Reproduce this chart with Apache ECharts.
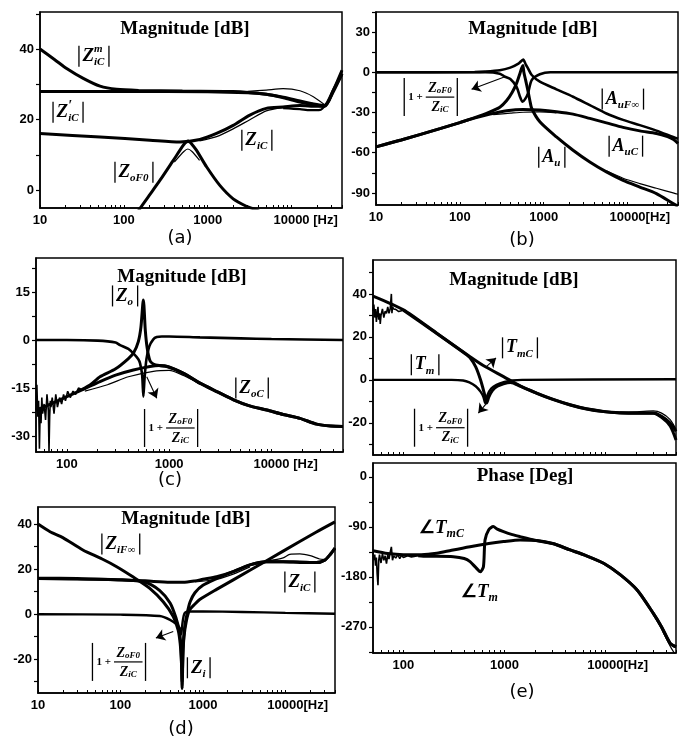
<!DOCTYPE html>
<html><head><meta charset="utf-8">
<script src="https://cdn.jsdelivr.net/npm/echarts@6/dist/echarts.min.js"></script>
<style>html,body{margin:0;padding:0;background:#fff}#c{width:687px;height:739px}</style>
</head><body><div id="c"></div>
<script>
// ---------------- DATA ----------------
// tick labels
const xLabelsA = [10, 100, 1000, 10000];
const xLabelsC = [100, 1000, 10000];
const tickMultipliers = [1, 2, 3, 4, 5, 6, 7, 8, 9];
const tickDecades = [10, 100, 1000, 10000];
const yLabA = [0, 20, 40], yTickA = [0, 10, 20, 30, 40, 50];
const yLabB = [-90, -60, -30, 0, 30], yTickB = [-90, -75, -60, -45, -30, -15, 0, 15, 30, 45];
const yLabC = [-30, -15, 0, 15], yTickC = [-30, -22.5, -15, -7.5, 0, 7.5, 15, 22.5];
const yLabE = [-20, 0, 20, 40], yTickE = [-30, -20, -10, 0, 10, 20, 30, 40, 50];
const yLabP = [-270, -180, -90, 0], yTickP = [-315, -270, -225, -180, -135, -90, -45, 0];
const yLabD = [-20, 0, 20, 40], yTickD = [-30, -20, -10, 0, 10, 20, 30, 40];

// (a)
const a_ZmiC_f = [10, 15, 20.8, 32.8, 52, 82, 150, 500, 2000, 5000, 8000, 12600, 20000, 25000, 31600, 40000];
const a_ZmiC_db = [40, 37, 34.5, 31.7, 29.5, 28.6, 28.3, 28.1, 28, 27.2, 26.2, 25, 24.1, 23.8, 28.4, 34];
const a_ZpiC_f = [10, 100, 1000, 3000, 5000, 8000, 12600, 20000, 25000, 31600, 40000];
const a_ZpiC_db = [28, 28, 27.9, 27.6, 27.2, 26.4, 25.3, 24.3, 24, 28, 33];
const a_ZpiCsim_f = [3000, 5000, 7940, 12600, 18200, 25000];
const a_ZpiCsim_db = [28, 28.4, 28.8, 28.2, 26.5, 24.2];
const a_ZiC_f = [10, 52, 205, 465, 807, 1276, 2014, 3184, 5000, 7940, 12600, 20000, 25000, 31600, 40000];
const a_ZiC_db = [16.1, 15.1, 14.2, 13.7, 14.4, 16.1, 18.4, 21.3, 23.2, 23.6, 24, 23.8, 24, 28.4, 33];
const a_ZiClow_f = [7940, 12600, 16600, 22000, 26000];
const a_ZiClow_db = [23.3, 23, 22.7, 22.8, 24.5];
const a_ZiCsim_f = [800, 1276, 2014, 3184, 5000, 7940];
const a_ZiCsim_db = [14, 15.2, 17.4, 20, 22.5, 23.4];
const a_ZoF0_f = [140, 155, 200, 269, 389, 513, 560, 588, 640, 737, 973, 1396, 2014, 2890, 3500, 4200];
const a_ZoF0_db = [-7, -5.2, -1.5, 2.8, 8.5, 12.8, 13.8, 14, 13.2, 11.3, 6.6, 1.4, -2.4, -4.5, -5.2, -6];
const a_ZoF0sim_f = [400, 520, 580, 650, 800];
const a_ZoF0sim_db = [8, 11, 11.7, 11, 8.5];

// (b)
const b_notch_f = [10, 200, 300, 345, 400, 475, 520, 560, 600, 650, 720, 900, 1200, 40000];
const b_notch_db = [0, 0, -1, -3.3, -5, -10.8, -18, -22, -20, -15.7, -5.8, -1.5, 0, 0];
const b_AuFinf_f = [10, 150, 200, 300, 400, 500, 570, 610, 650, 720, 900, 1420, 2240, 3550, 5600, 8850, 14000, 22100, 35000, 40000];
const b_AuFinf_db = [0, 0.2, 0.5, 1.5, 3.5, 6.5, 9.5, 6, 3, -2, -7, -12.7, -18.2, -24.5, -30.7, -35.5, -39.4, -43.5, -48.2, -49.5];
const b_AuC_f = [10, 20, 58, 100, 145, 229, 362, 570, 900, 1420, 2240, 3550, 5600, 8850, 14000, 22100, 30000, 35000, 40000];
const b_AuC_db = [-55.6, -50.5, -42, -37.5, -34.4, -31.2, -28.7, -27.7, -28.2, -29.4, -31.2, -34.4, -37.7, -41.1, -43.7, -45.6, -48, -50, -53];
const b_AuCsim_f = [250, 400, 570, 900, 1420];
const b_AuCsim_db = [-31.5, -30.5, -29.8, -29.5, -30.2];
const b_Au_f = [10, 20, 58, 100, 145, 229, 300, 362, 420, 475, 520, 545, 565, 580, 610, 650, 684, 720, 900, 1420, 2240, 3550, 5600, 8850, 14000, 22100, 35000, 40000];
const b_Au_db = [-55.6, -50.5, -42, -37.5, -34.2, -29.5, -26, -21, -15, -8.2, -1, 3, 5, 0, -6, -14, -21, -27, -36.9, -48.2, -58.1, -66.9, -74.3, -80.6, -85.6, -90.5, -98, -100];
const b_Ausim_f = [5600, 8850, 14000, 22100, 35000, 40000];
const b_Ausim_db = [-73.5, -79, -83, -86.5, -90, -91];

// (c)
const c_ZoNoise_f = [50, 51, 52, 53, 54, 55, 56, 57, 58, 60, 62, 64, 66, 67, 68, 69, 70, 72, 75, 78, 81, 85, 89, 93, 97, 102, 108, 115, 122, 130, 140];
const c_ZoNoise_db = [-22, -14, -24, -19, -34, -21, -26, -18, -23, -20, -25, -17, -22, -35, -24, -19, -21, -18, -23, -17, -21, -18, -20, -17, -19, -16, -18, -16, -17, -15, -15.5];
const c_Zo_f = [140, 170, 211, 300, 400, 450, 500, 530, 560, 585, 610, 650, 700, 800, 948, 1400, 2000, 3000, 4260, 6000, 9000, 13000, 19000, 27600, 38000, 50000];
const c_Zo_db = [-15.5, -14, -11.5, -9, -5.8, -4, -0.5, 4, 12.5, 3, -2.5, -6.5, -7.5, -8, -8.3, -10.5, -13.5, -16.3, -18.7, -20.5, -21.9, -23.3, -24.5, -26.3, -26.9, -27];
const c_ZoC_f = [50, 70, 100, 150, 211, 300, 447, 650, 800, 1000, 1400, 2000, 3000, 4260, 6000, 9000, 13000, 19000, 27600, 38000, 50000];
const c_ZoC_db = [-22, -20, -17.7, -15.2, -13, -11, -9.4, -8.3, -8, -8.4, -10.5, -13.5, -16.3, -18.7, -20.5, -21.9, -23.3, -24.5, -26.3, -26.9, -27];
const c_ZoCsim_f = [150, 250, 400, 700, 1000, 1400, 2000];
const c_ZoCsim_db = [-16, -14, -11.5, -9.8, -9.5, -11.2, -13.8];
const c_notch_f = [50, 100, 200, 300, 331, 400, 447, 500, 520, 545, 560, 575, 600, 640, 700, 757, 850, 1000, 2000, 5000, 10000, 50000];
const c_notch_db = [0, 0, -0.2, -0.8, -1.6, -2.8, -4.2, -6, -7.3, -11, -17.7, -12, -6, -2, 0.2, 0.9, 1.1, 1.1, 0.8, 0.5, 0.3, 0];

// (e) magnitude
const e_TmC_f = [50, 100, 214, 457, 643, 980, 1430, 2090, 3000, 4480, 6500, 9600, 14000, 20600, 29800, 36000, 43800, 50000];
const e_TmC_db = [39, 32.6, 21.7, 10.8, 6.2, 1.5, -2.8, -6.2, -9, -11.6, -13.5, -14.7, -15.3, -15.5, -15.5, -17, -20.1, -24];
const e_TmNoise_f = [50, 51, 52, 53, 54, 55, 56, 57, 58, 59, 60, 62, 64, 66, 68, 70, 72, 74, 76, 77, 78, 80, 84, 90, 100];
const e_TmNoise_db = [32, 35, 29, 33, 27, 31, 34, 28, 31, 26, 30, 33, 29, 32, 31, 34, 31, 33, 40, 31, 34, 33, 32.8, 31.8, 32.4];
const e_Tm_f = [100, 214, 400, 457, 520, 580, 630, 668, 700, 760, 850, 980, 1150, 1430, 2090, 3000, 4480, 6500, 9600, 14000, 20600, 29800, 36000, 43800, 50000];
const e_Tm_db = [32.4, 21.6, 12.5, 10.3, 6, 0, -6, -10.8, -8, -5, -3, -1.8, -1.2, -2.9, -6.3, -9.1, -11.7, -13.6, -14.8, -15.4, -15.6, -15.6, -17.5, -21.5, -28];
const e_TmCsim_f = [14000, 20600, 29800, 36000, 43800, 50000];
const e_TmCsim_db = [-15, -14.9, -14.5, -15.5, -18.5, -23];
const e_notch_f = [50, 300, 390, 450, 520, 580, 620, 645, 680, 740, 835, 1000, 1200, 1500, 50000];
const e_notch_db = [0, 0, -0.3, -1.2, -3, -5.5, -8, -10.8, -7, -4, -2.3, -1, -0.3, 0, 0.3];

// (e) phase
const p_TmNoise_f = [50, 51, 52, 53, 54, 55, 56, 57, 58, 60, 62, 64, 66, 68, 70, 72, 74, 76, 78, 80, 84, 88, 92, 96, 100, 110, 120, 140];
const p_TmNoise_deg = [-135, -150, -140, -160, -145, -175, -195, -150, -140, -155, -138, -150, -142, -156, -140, -148, -136, -126, -150, -142, -146, -140, -147, -141, -145, -142, -144, -142];
const p_Tm_f = [140, 170, 214, 312, 400, 457, 520, 578, 620, 643, 700, 776, 850, 980, 1200, 1430, 2000, 3000, 4480, 6500, 9600, 14000, 20600, 29800, 36000, 43800, 50000];
const p_Tm_deg = [-142, -143, -143, -143.6, -147, -152.6, -163, -170.6, -161.6, -113.5, -95, -89.5, -94, -98.6, -104, -107.6, -114, -120, -131.5, -142, -155.5, -176, -203.6, -245.6, -270, -299.6, -306];
const p_TmC_f = [50, 70, 100, 150, 214, 300, 457, 700, 980, 1430, 2090, 3000, 4480, 6500, 9600, 14000, 20600, 29800, 36000, 43800, 50000];
const p_TmC_deg = [-133, -138, -140, -140, -137.5, -132, -125.6, -120, -116.5, -113.5, -114.7, -120, -131.5, -142, -155.5, -176, -203.6, -245.6, -270, -299.6, -306];
const p_TmCsim_f = [29800, 36000, 43800, 50000];
const p_TmCsim_deg = [-247, -274, -305, -322];

// (d)
const d_ZiFinf_f = [10, 14, 20, 35, 60, 90, 143, 227, 330, 437, 500, 530, 550, 560, 572, 590, 630, 690, 800, 915, 1466, 3720, 9400, 23800, 40000];
const d_ZiFinf_db = [40, 36.6, 34, 28.5, 24.5, 21.1, 16.5, 11.5, 5.5, -1, -7, -13, -22, -30, -18, -10, -3, 1.9, 4.5, 6.5, 11, 19.5, 28, 36.5, 41];
const d_Zi_f = [10, 30, 100, 200, 300, 400, 470, 520, 545, 560, 575, 600, 650, 700, 800, 1000, 1466, 2330, 3720, 5900, 9400, 15000, 23800, 30000, 35000, 40000];
const d_Zi_db = [16, 15.8, 15.3, 14.2, 10.5, 5, -1.5, -8, -16, -33, -15, -6, 1, 5.5, 9.5, 12.8, 15.8, 18.9, 21.9, 23.3, 23.3, 23, 22.9, 24, 26.5, 29.3];
const d_ZiC_f = [10, 50, 100, 200, 400, 575, 800, 1000, 1466, 2330, 3720, 5900, 9400, 15000, 23800, 30000, 35000, 40000];
const d_ZiC_db = [15.8, 15.5, 15.2, 14.8, 14.2, 14.2, 14.8, 15.5, 16.6, 18.9, 21.9, 23.3, 23.3, 23.2, 22.9, 24, 26.5, 29.3];
const d_ZiCsim_f = [5900, 9400, 11300, 15000, 20000, 26000, 30000];
const d_ZiCsim_db = [23.5, 25, 26.6, 26.8, 26, 24.5, 24.2];
const d_ZiCsim2_f = [800, 1466, 2330, 3720];
const d_ZiCsim2_db = [14.3, 15.5, 17.8, 21];
const d_notch_f = [10, 100, 300, 400, 480, 520, 545, 565, 600, 700, 1000, 3000, 10000, 40000];
const d_notch_db = [0, -0.2, -0.8, -2.5, -4.5, -6, -9, -4, 0.5, 1.2, 1.2, 1, 0.6, 0.2];

// ---------------- HELPERS ----------------
const mctx = document.createElement('canvas').getContext('2d');
function tw(text, size, italic, weight, family) {
  mctx.font = (italic ? 'italic ' : '') + (weight || 'bold') + ' ' + size + 'px "' + (family || 'Liberation Serif') + '"';
  return mctx.measureText(text).width;
}
function pairs(f, v) { return f.map((x, i) => [x, v[i]]); }
function ln(g, f, v, w, smooth) {
  return {
    type: 'line', xAxisIndex: g, yAxisIndex: g, data: pairs(f, v),
    showSymbol: false, symbol: 'none', smooth: smooth === undefined ? 0.25 : smooth,
    lineStyle: { color: '#000', width: w }, silent: true, animation: false, z: w > 2 ? 3 : 2
  };
}
const minorTicks = [];
tickDecades.forEach(d => tickMultipliers.forEach(m => minorTicks.push(d * m)));
minorTicks.push(100000);

const LBL = { color: '#000', fontSize: 13, fontWeight: 'bold', fontFamily: 'Liberation Sans' };
function xAx(g, min, max, labels, suffix) {
  const sw = tw(suffix || '', 13, false, 'bold', 'Liberation Sans');
  return {
    type: 'log', logBase: 10, gridIndex: g, min: min, max: max,
    splitLine: { show: false },
    axisLine: { show: true, onZero: false, lineStyle: { color: '#000', width: 1.5 } },
    axisTick: { show: true, inside: true, length: 3, customValues: minorTicks.filter(v => v >= min && v <= max), lineStyle: { color: '#000', width: 1 } },
    axisLabel: Object.assign({
      show: labels.length > 0, customValues: labels, margin: 6,
      formatter: function (v) {
        const n = Math.round(v);
        if (n === 10000 && suffix) return '{p|' + suffix + '}10000{u|' + suffix + '}';
        return String(n);
      },
      rich: { p: { color: 'rgba(0,0,0,0)', width: sw }, u: {} }
    }, LBL)
  };
}
function yAx(g, min, max, labels, ticks) {
  return {
    type: 'value', gridIndex: g, min: min, max: max,
    splitLine: { show: false },
    axisLine: { show: true, onZero: false, lineStyle: { color: '#000', width: 1.5 } },
    axisTick: { show: true, inside: false, length: 4, customValues: ticks, lineStyle: { color: '#000', width: 1.2 } },
    axisLabel: Object.assign({ show: true, customValues: labels, margin: 6 }, LBL)
  };
}
function arrow(g, from, to) {
  return {
    type: 'line', xAxisIndex: g, yAxisIndex: g, data: [], silent: true, animation: false,
    markLine: {
      silent: true, animation: false, symbol: ['none', 'arrow'], symbolSize: 9,
      label: { show: false }, emphasis: { disabled: true },
      lineStyle: { color: '#000', width: 1.1, type: 'solid' },
      data: [[{ coord: from }, { coord: to }]]
    }
  };
}

const grids = [
  { left: 40, top: 12, width: 302, height: 196 },
  { left: 376, top: 12, width: 302, height: 193 },
  { left: 36, top: 258, width: 307, height: 194 },
  { left: 373, top: 260, width: 303, height: 195 },
  { left: 373, top: 463, width: 303, height: 190 },
  { left: 38, top: 507, width: 297, height: 186 }
].map(g => Object.assign({ show: true, borderColor: '#000', borderWidth: 1.5, backgroundColor: '#fff' }, g));

const xAxes = [
  xAx(0, 10, 40000, xLabelsA, ' [Hz]'),
  xAx(1, 10, 40000, xLabelsA, '[Hz]'),
  xAx(2, 50, 50000, xLabelsC, ' [Hz]'),
  xAx(3, 50, 50000, [], ''),
  xAx(4, 50, 50000, xLabelsC, '[Hz]'),
  xAx(5, 10, 40000, xLabelsA, '[Hz]')
];
const yAxes = [
  yAx(0, -5, 50.5, yLabA, yTickA),
  yAx(1, -99, 45, yLabB, yTickB),
  yAx(2, -35, 25.6, yLabC, yTickC),
  yAx(3, -35, 55.8, yLabE, yTickE),
  yAx(4, -317, 25, yLabP, yTickP),
  yAx(5, -35, 47.6, yLabD, yTickD)
];

const series = [
  // (a)
  ln(0, a_ZmiC_f, a_ZmiC_db, 3), ln(0, a_ZpiC_f, a_ZpiC_db, 3), ln(0, a_ZpiCsim_f, a_ZpiCsim_db, 1.2),
  ln(0, a_ZiC_f, a_ZiC_db, 3), ln(0, a_ZiClow_f, a_ZiClow_db, 2.2), ln(0, a_ZiCsim_f, a_ZiCsim_db, 1.2),
  ln(0, a_ZoF0_f, a_ZoF0_db, 3), ln(0, a_ZoF0sim_f, a_ZoF0sim_db, 1.2),
  // (b)
  ln(1, b_notch_f, b_notch_db, 2.6), ln(1, b_AuFinf_f, b_AuFinf_db, 2.6), ln(1, b_AuC_f, b_AuC_db, 3),
  ln(1, b_AuCsim_f, b_AuCsim_db, 1.2), ln(1, b_Au_f, b_Au_db, 3), ln(1, b_Ausim_f, b_Ausim_db, 1.2),
  // (c)
  ln(2, c_ZoNoise_f, c_ZoNoise_db, 1.6, false), ln(2, c_Zo_f, c_Zo_db, 3), ln(2, c_ZoC_f, c_ZoC_db, 3),
  ln(2, c_ZoCsim_f, c_ZoCsim_db, 1.2), ln(2, c_notch_f, c_notch_db, 2.6),
  // (e) magnitude
  ln(3, e_TmNoise_f, e_TmNoise_db, 1.6, false), ln(3, e_TmC_f, e_TmC_db, 3), ln(3, e_Tm_f, e_Tm_db, 3),
  ln(3, e_TmCsim_f, e_TmCsim_db, 1.2), ln(3, e_notch_f, e_notch_db, 2.4),
  // (e) phase
  ln(4, p_TmNoise_f, p_TmNoise_deg, 1.6, false), ln(4, p_Tm_f, p_Tm_deg, 3), ln(4, p_TmC_f, p_TmC_deg, 3),
  ln(4, p_TmCsim_f, p_TmCsim_deg, 1.2),
  // (d)
  ln(5, d_ZiFinf_f, d_ZiFinf_db, 3), ln(5, d_Zi_f, d_Zi_db, 3), ln(5, d_ZiC_f, d_ZiC_db, 3),
  ln(5, d_ZiCsim_f, d_ZiCsim_db, 1.2), ln(5, d_ZiCsim2_f, d_ZiCsim2_db, 1.2), ln(5, d_notch_f, d_notch_db, 2.4),
  // arrows
  arrow(1, [345, -3.3], [138, -12.7]),
  arrow(2, [604, -11.5], [757, -18.2]),
  arrow(3, [643, 5.6], [826, 10.2]),
  arrow(3, [668, -10.8], [552, -15.5]),
  arrow(5, [437, -7.7], [269, -10.6])
];

const chart = echarts.init(document.getElementById('c'), null, { renderer: 'canvas' });
chart.setOption({ animation: false, backgroundColor: '#fff', grid: grids, xAxis: xAxes, yAxis: yAxes, series: series });

// ---------------- ANNOTATIONS ----------------
const SERIF = 'Liberation Serif';
function txt(x, y, t, s, italic, align) {
  return { type: 'text', x: x, y: y, silent: true, z: 10,
    style: { text: t, fontSize: s, fontFamily: SERIF, fontWeight: 'bold', fontStyle: italic === false ? 'normal' : 'italic',
      fill: '#000', align: align || 'left', verticalAlign: 'middle' } };
}
function bar(x, y, h) {
  return { type: 'line', silent: true, z: 10, shape: { x1: x, y1: y - h / 2, x2: x, y2: y + h / 2 }, style: { stroke: '#000', lineWidth: 1.3 } };
}
function absLabel(px, py, segs, barH, noBars) {
  let x = 0; const items = [];
  for (let i = 0; i < segs.length; i++) {
    const sg = segs[i];
    if (sg.stack && segs[i + 1]) {
      const nx = segs[i + 1];
      items.push({ sg: sg, x: x }); items.push({ sg: nx, x: x });
      x += Math.max(tw(sg.t, sg.s, sg.it !== false), tw(nx.t, nx.s, nx.it !== false)); i++;
    } else { items.push({ sg: sg, x: x }); x += tw(sg.t, sg.s, sg.it !== false); }
  }
  const gap = noBars ? 0 : 3;
  const total = x + 2 * gap + 2;
  const x0 = px - total / 2;
  const els = [];
  if (!noBars) els.push(bar(x0, py, barH || 21));
  items.forEach(it => els.push(txt(x0 + gap + 0.5 + it.x, py + it.sg.dy, it.sg.t, it.sg.s, it.sg.it)));
  if (!noBars) els.push(bar(x0 + total, py, barH || 21));
  return els;
}
function frac(px, py) {
  const w1 = tw('1 +', 11, false);
  const wn = tw('Z', 14, true) + tw('oF0', 9, true);
  const wd = tw('Z', 14, true) + tw('iC', 9, true);
  const fw = Math.max(wn, wd) + 5;
  const total = 4 + w1 + 3 + fw + 3;
  const x0 = px - total / 2;
  const els = [bar(x0, py, 38), bar(x0 + total, py, 38)];
  els.push(txt(x0 + 4, py, '1 +', 11, false));
  const fl = x0 + 4 + w1 + 3;
  els.push({ type: 'line', silent: true, z: 10, shape: { x1: fl, y1: py, x2: fl + fw, y2: py }, style: { stroke: '#000', lineWidth: 1.2 } });
  const nx = fl + (fw - wn) / 2;
  els.push(txt(nx, py - 9, 'Z', 14)); els.push(txt(nx + tw('Z', 14, true), py - 6, 'oF0', 9));
  const dx = fl + (fw - wd) / 2;
  els.push(txt(dx, py + 10, 'Z', 14)); els.push(txt(dx + tw('Z', 14, true), py + 13, 'iC', 9));
  return els;
}
const Z = (s) => ({ t: 'Z', s: s || 19, dy: 0 });
const SUB = (t) => ({ t: t, s: 11, dy: 6 });
const SUP = (t) => ({ t: t, s: 11, dy: -7, stack: true });

const absNotes = [
  { g: 0, at: [44, 38], segs: [Z(), SUP('m'), SUB('iC')] },
  { g: 0, at: [21.6, 22.1], segs: [Z(), { t: '\u2032', s: 14, dy: -6, stack: true }, SUB('iC')] },
  { g: 0, at: [3860, 14.2], segs: [Z(), SUB('iC')] },
  { g: 0, at: [132, 5.1], segs: [Z(), SUB('oF0')] },
  { g: 1, at: [8800, -20], segs: [{ t: 'A', s: 18, dy: 0 }, SUB('uF\u221E')] },
  { g: 1, at: [9550, -55.1], segs: [{ t: 'A', s: 18, dy: 0 }, SUB('uC')] },
  { g: 1, at: [1250, -63.4], segs: [{ t: 'A', s: 18, dy: 0 }, SUB('u')] },
  { g: 2, at: [371, 13.75], segs: [Z(), SUB('o')] },
  { g: 2, at: [6460, -15], segs: [Z(), SUB('oC')] },
  { g: 3, at: [164, 7], segs: [{ t: 'T', s: 18, dy: 0 }, SUB('m')] },
  { g: 3, at: [1426, 14.9], segs: [{ t: 'T', s: 18, dy: 0 }, SUB('mC')] },
  { g: 5, at: [101, 31.2], segs: [Z(), SUB('iF\u221E')] },
  { g: 5, at: [15000, 14.3], segs: [Z(), SUB('iC')] },
  { g: 5, at: [890, -23.8], segs: [Z(), SUB('i')] }
];
const angleNotes = [
  { g: 4, at: [241, -92], segs: [{ t: '\u2220', s: 18, dy: 0, it: false }, { t: 'T', s: 19, dy: 0 }, { t: 'mC', s: 12, dy: 6 }] },
  { g: 4, at: [573, -207], segs: [{ t: '\u2220', s: 18, dy: 0, it: false }, { t: 'T', s: 19, dy: 0 }, { t: 'm', s: 12, dy: 6 }] }
];
const fracNotes = [
  { g: 1, at: [45, -18.5] }, { g: 2, at: [1045, -27.5] }, { g: 3, at: [236, -22.3] }, { g: 5, at: [96, -21.2] }
];
const panelTitles = [
  { t: 'Magnitude [dB]', x: 185, y: 29 }, { t: 'Magnitude [dB]', x: 533, y: 29 },
  { t: 'Magnitude [dB]', x: 182, y: 277 }, { t: 'Magnitude [dB]', x: 514, y: 280 },
  { t: 'Phase [Deg]', x: 525, y: 476 }, { t: 'Magnitude [dB]', x: 186, y: 519 }
];
const captions = [
  { t: '(a)', x: 180, y: 238 }, { t: '(b)', x: 522, y: 240 }, { t: '(c)', x: 170, y: 480 },
  { t: '(d)', x: 181, y: 729 }, { t: '(e)', x: 522, y: 692 }
];

const els = [];
absNotes.forEach(n => { const p = chart.convertToPixel({ gridIndex: n.g }, n.at); absLabel(p[0], p[1], n.segs).forEach(e => els.push(e)); });
angleNotes.forEach(n => { const p = chart.convertToPixel({ gridIndex: n.g }, n.at); absLabel(p[0], p[1], n.segs, 0, true).forEach(e => els.push(e)); });
fracNotes.forEach(n => { const p = chart.convertToPixel({ gridIndex: n.g }, n.at); frac(p[0], p[1]).forEach(e => els.push(e)); });
panelTitles.forEach(t => els.push({ type: 'text', x: t.x, y: t.y, silent: true, z: 10,
  style: { text: t.t, fontSize: 19, fontFamily: SERIF, fontWeight: 'bold', fill: '#000', align: 'center', verticalAlign: 'middle' } }));
captions.forEach(t => els.push({ type: 'text', x: t.x, y: t.y, silent: true, z: 10,
  style: { text: t.t, fontSize: 18, fontFamily: 'DejaVu Sans', fontWeight: 'normal', fill: '#000', align: 'center', verticalAlign: 'middle' } }));
chart.setOption({ graphic: { elements: els } });
</script>
</body></html>
